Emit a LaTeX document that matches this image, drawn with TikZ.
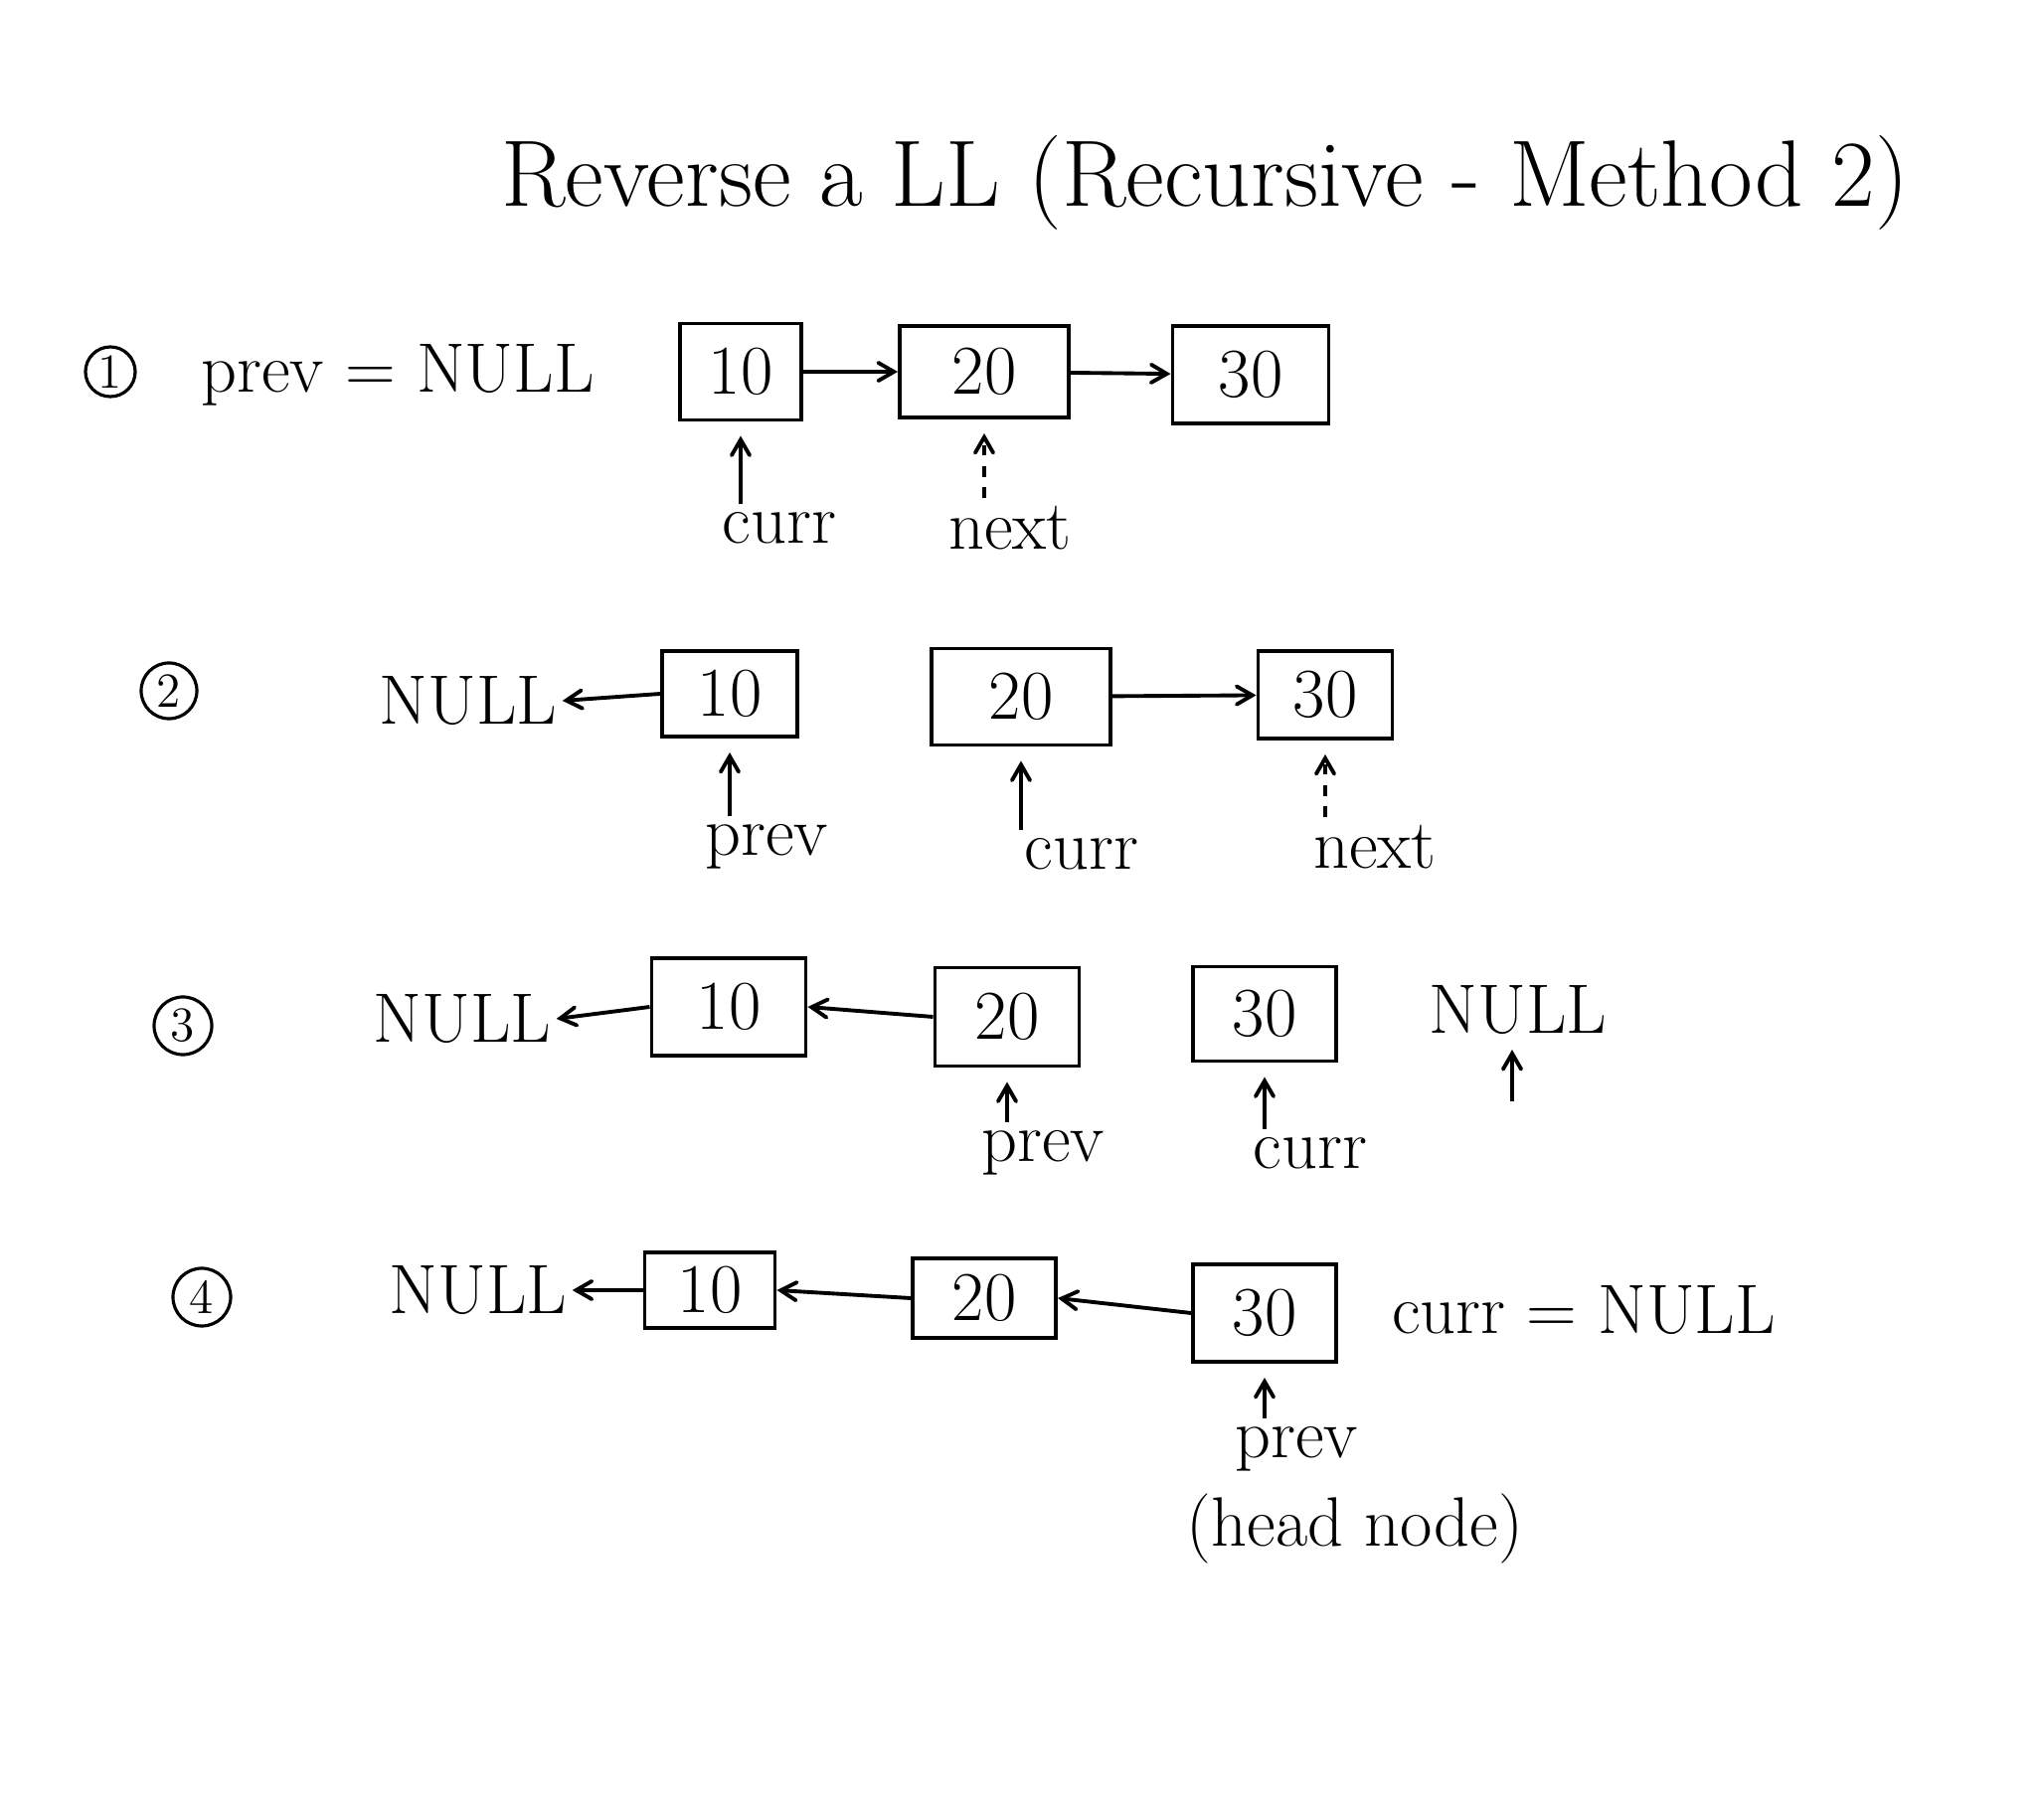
\documentclass[tikz,border=0pt]{standalone}
\usetikzlibrary{arrows}
\usetikzlibrary{positioning}

\begin{document}
\begin{tikzpicture}[x=0.01cm, y=-0.01cm, line width=1.1pt, >=angle 60,
    cell/.style={draw, minimum width=#1, minimum height=0.9cm, inner sep=0pt,
                 font=\fontsize{20}{24}\selectfont},
    cell/.default=1.4cm,
    lbl/.style={font=\fontsize{20}{24}\selectfont, inner sep=1pt},
    num/.style={draw, circle, minimum size=0.5cm, inner sep=0pt, line width=0.9pt,
                font=\fontsize{14}{16}\selectfont},
    ptr/.style={->, shorten >=0.14cm, shorten <=0.03cm}]
    \useasboundingbox (0,0) rectangle (2056,1828);

    \node[font=\fontsize{27}{32}\selectfont] (title) at (1212,184) {Reverse a LL (Recursive - Method 2)};

    % step 1
    \node[num] (no1) at (111,374) {1};
    \node[lbl] (prev1) at (400,377) {prev = NULL};
    \node[cell=1.22cm, minimum height=0.97cm] (ten1) at (745,374) {10};
    \node[cell=1.7cm, minimum height=0.92cm] (twenty1) at (990,374) {20};
    \node[cell=1.57cm, minimum height=0.98cm] (thirty1) at (1258,377) {30};
    \draw[->] (ten1) -- (twenty1);
    \draw[->] (twenty1) -- (thirty1);
    \node[lbl] (curr1) at (784,531) {curr};
    \node[lbl] (next1) at (1016,531) {next};
    \draw[ptr] (ten1.south |- curr1.north) -- (ten1.south);
    \draw[ptr, dashed] (twenty1.south |- next1.north) -- (twenty1.south);

    % step 2
    \node[num, minimum size=0.56cm] (no2) at (170,695) {2};
    \node[lbl] (null2) at (471,705) {NULL};
    \node[cell=1.36cm, minimum height=0.86cm] (ten2) at (734,698) {10};
    \node[cell=1.8cm, minimum height=0.97cm] (twenty2) at (1027,701) {20};
    \node[cell=1.35cm, minimum height=0.88cm] (thirty2) at (1333,699) {30};
    \draw[->] (ten2.west) -- (null2.east);
    \draw[->] (twenty2) -- (thirty2);
    \node[lbl] (prev2) at (771,852) {prev};
    \node[lbl] (curr2) at (1088,859) {curr};
    \node[lbl] (next2) at (1383,852) {next};
    \draw[ptr] (ten2.south |- prev2.north) -- (ten2.south);
    \draw[ptr] (twenty2.south |- curr2.north) -- (twenty2.south);
    \draw[ptr, dashed] (thirty2.south |- next2.north) -- (thirty2.south);

    % step 3
    \node[num, minimum size=0.58cm] (no3) at (184,1032) {3};
    \node[lbl] (null3) at (465,1025) {NULL};
    \node[cell=1.55cm, minimum height=0.98cm] (ten3) at (733,1013) {10};
    \node[cell=1.45cm, minimum height=0.99cm] (twenty3) at (1013,1023) {20};
    \node[cell=1.44cm, minimum height=0.95cm] (thirty3) at (1272,1020) {30};
    \node[lbl] (nullr3) at (1527,1016) {NULL};
    \draw[->] (ten3.west) -- (null3.east);
    \draw[->] (twenty3.west) -- (ten3.east);
    \node[lbl] (prev3) at (1049,1160) {prev};
    \node[lbl] (curr3) at (1318,1160) {curr};
    \coordinate (tail3) at (1521,1108);
    \draw[ptr] (twenty3.south |- prev3.north) -- (twenty3.south);
    \draw[ptr] (thirty3.south |- curr3.north) -- (thirty3.south);
    \draw[->, shorten >=0.1cm] (tail3) -- (nullr3.south -| tail3);

    % step 4
    \node[num, minimum size=0.58cm] (no4) at (203,1305) {4};
    \node[lbl] (null4) at (481,1298) {NULL};
    \node[cell=1.31cm, minimum height=0.76cm] (ten4) at (714,1298) {10};
    \node[cell=1.44cm, minimum height=0.8cm] (twenty4) at (990,1306) {20};
    \node[cell=1.44cm, minimum height=0.98cm] (thirty4) at (1272,1321) {30};
    \node[lbl] (currnull4) at (1593,1318) {curr = NULL};
    \draw[->] (ten4.west) -- (null4.east);
    \draw[->] (twenty4.west) -- (ten4.east);
    \draw[->] (thirty4.west) -- (twenty4.east);
    \node[lbl] (prev4) at (1304,1458) {prev};
    \node[lbl] (head4) at (1363,1538) {(head node)};
    \draw[ptr] (thirty4.south |- prev4.north) -- (thirty4.south);
\end{tikzpicture}
\end{document}
